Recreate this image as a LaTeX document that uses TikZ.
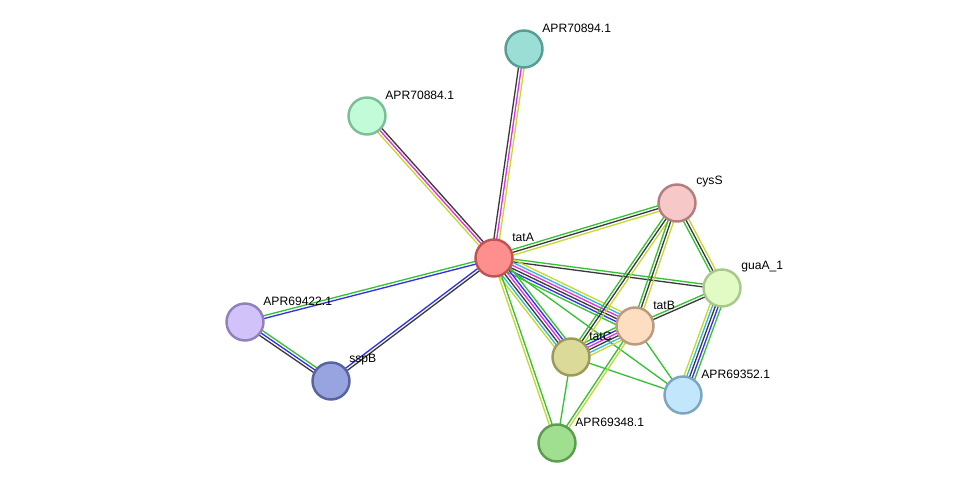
\documentclass[tikz,border=0pt]{standalone}
\usepackage{fontspec}
\setmainfont{Liberation Sans}
\usepackage{tikz}
\usetikzlibrary{calc,backgrounds}
\definecolor{egreen}{HTML}{33C233}
\definecolor{eblack}{HTML}{3A3A3A}
\definecolor{emag}{HTML}{E030E0}
\definecolor{ecyan}{HTML}{30B8D8}
\definecolor{eyel}{HTML}{C4D930}
\definecolor{eblue}{HTML}{3030F0}
% one line per evidence channel, side by side
\newcommand{\bundle}[3]{%
  \foreach \c [count=\i] in {#3} {\xdef\nlines{\i}}%
  \foreach \c [count=\i] in {#3} {%
    \pgfmathsetmacro{\off}{(\i-(\nlines+1)/2)*1.6}%
    \draw[edge, \c] ($(#1.center)!\off pt!90:(#2.center)$) -- ($(#2.center)!\off pt!-90:(#1.center)$);
  }}

\begin{document}
\begin{tikzpicture}[x=0.02cm, y=-0.02cm,
  prot/.style={circle, draw, line width=1.4pt, minimum size=0.74cm, inner sep=0pt},
  edge/.style={line width=0.75pt},
  lbl/.style={anchor=west, inner sep=0pt, font=\fontsize{6.9}{8}\selectfont}]
  \useasboundingbox (0,0) rectangle (975,489);
  \node[prot, fill={rgb,255:red,255;green,142;blue,142}, draw={rgb,255:red,192;green,84;blue,84}] (tatA) at (494,258) {};
  \node[prot, fill={rgb,255:red,154;green,222;blue,214}, draw={rgb,255:red,88;green,156;blue,148}] (p70894) at (524,49) {};
  \node[prot, fill={rgb,255:red,194;green,251;blue,216}, draw={rgb,255:red,124;green,190;blue,150}] (p70884) at (367,116) {};
  \node[prot, fill={rgb,255:red,247;green,200;blue,200}, draw={rgb,255:red,180;green,126;blue,126}] (cysS) at (677,203) {};
  \node[prot, fill={rgb,255:red,226;green,251;blue,196}, draw={rgb,255:red,168;green,200;blue,142}] (guaA) at (722,288) {};
  \node[prot, fill={rgb,255:red,253;green,222;blue,192}, draw={rgb,255:red,186;green,154;blue,128}] (tatB) at (635,326) {};
  \node[prot, fill={rgb,255:red,220;green,218;blue,152}, draw={rgb,255:red,156;green,154;blue,88}] (tatC) at (571,357) {};
  \node[prot, fill={rgb,255:red,194;green,230;blue,251}, draw={rgb,255:red,124;green,166;blue,192}] (p69352) at (683,395) {};
  \node[prot, fill={rgb,255:red,160;green,222;blue,144}, draw={rgb,255:red,94;green,156;blue,80}] (p69348) at (557,443) {};
  \node[prot, fill={rgb,255:red,210;green,194;blue,250}, draw={rgb,255:red,146;green,128;blue,186}] (p69422) at (245,322) {};
  \node[prot, fill={rgb,255:red,152;green,164;blue,224}, draw={rgb,255:red,88;green,100;blue,160}] (sspB) at (331,381) {};

  \node[lbl] (tatA-l) at ([shift={(18,-21)}]tatA.center) {tatA};
  \node[lbl] (p70894-l) at ([shift={(18,-21)}]p70894.center) {APR70894.1};
  \node[lbl] (p70884-l) at ([shift={(18,-21)}]p70884.center) {APR70884.1};
  \node[lbl] (cysS-l) at ([shift={(19,-21)}]cysS.center) {cysS};
  \node[lbl] (guaA-l) at ([shift={(19,-21)}]guaA.center) {guaA\_1};
  \node[lbl] (tatB-l) at ([shift={(18,-21)}]tatB.center) {tatB};
  \node[lbl] (tatC-l) at ([shift={(18,-21)}]tatC.center) {tatC};
  \node[lbl] (p69352-l) at ([shift={(18,-21)}]p69352.center) {APR69352.1};
  \node[lbl] (p69348-l) at ([shift={(18,-21)}]p69348.center) {APR69348.1};
  \node[lbl] (p69422-l) at ([shift={(18,-21)}]p69422.center) {APR69422.1};
  \node[lbl] (sspB-l) at ([shift={(18,-21)}]sspB.center) {sspB};

  \begin{scope}[on background layer]
    \bundle{p70894}{tatA}{eblack,emag,eyel}
    \bundle{p70884}{tatA}{eyel,emag,eblack}
    \bundle{tatA}{p69422}{egreen,eblue}
    \bundle{tatA}{sspB}{eblue,eblack}
    \bundle{p69422}{sspB}{eblack,eblue,egreen}
    \bundle{tatA}{cysS}{eyel,eblack,egreen}
    \bundle{tatA}{guaA}{eblack,egreen}
    \bundle{tatA}{tatB}{egreen,eblue,eblack,emag,ecyan,eyel}
    \bundle{tatA}{tatC}{eyel,ecyan,eblack,emag,eblue,egreen}
    \bundle{tatA}{p69348}{eyel,egreen}
    \bundle{tatA}{p69352}{egreen}
    \bundle{tatC}{tatB}{eyel,ecyan,eblack,emag,eblue,egreen}
    \bundle{cysS}{tatC}{egreen,eblack,eyel}
    \bundle{cysS}{tatB}{egreen,eblack,eyel}
    \bundle{cysS}{guaA}{egreen,eblack,eyel}
    \bundle{tatB}{guaA}{eblack,egreen}
    \bundle{guaA}{p69352}{eyel,ecyan,eblack,eblue,egreen}
    \bundle{tatB}{p69352}{egreen}
    \bundle{tatC}{p69352}{egreen}
    \bundle{tatC}{p69348}{egreen}
    \bundle{tatB}{p69348}{egreen,eyel}
  \end{scope}
\end{tikzpicture}
\end{document}
